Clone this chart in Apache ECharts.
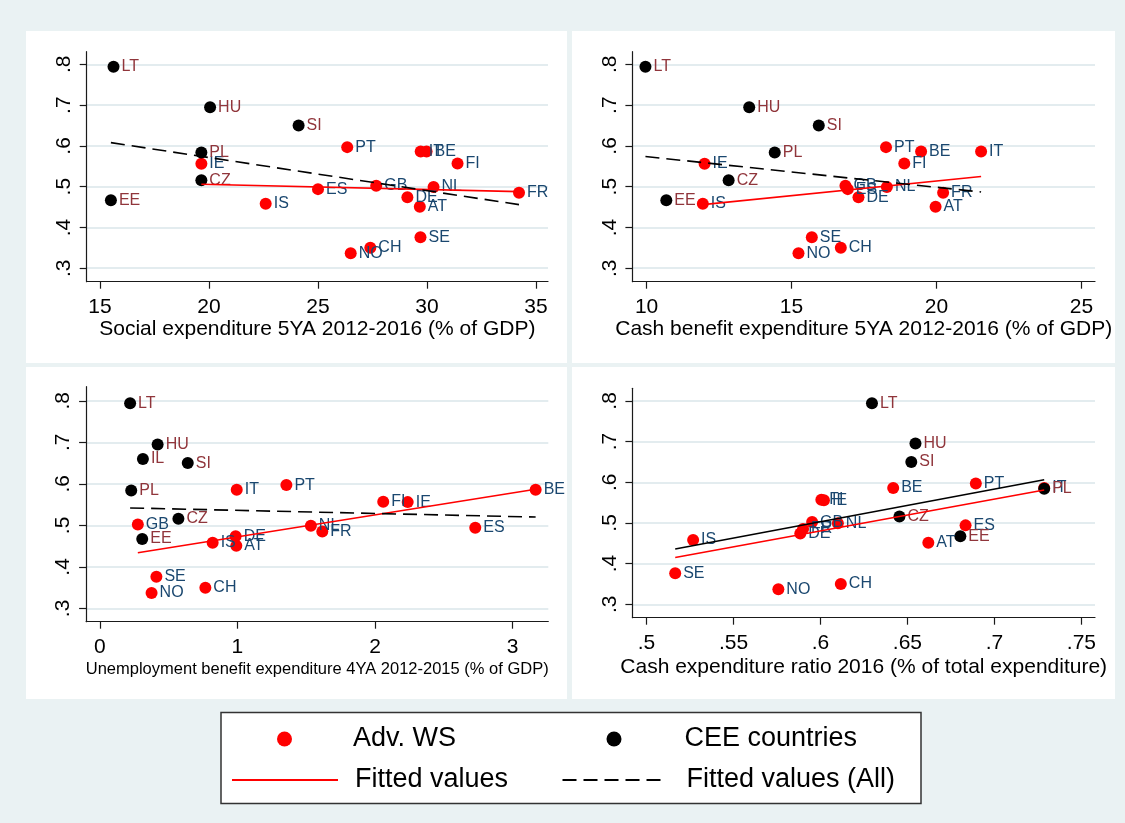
<!DOCTYPE html>
<html>
<head>
<meta charset="utf-8">
<script src="https://cdn.jsdelivr.net/npm/echarts@6/dist/echarts.min.js"></script>
<style>
  html, body { margin: 0; padding: 0; background: #eaf2f3; }
  #chart { width: 1125px; height: 823px; }
</style>
</head>
<body>
<div id="chart"></div>
<script>
// Outcome (vertical axis) by country, shared by all four panels
const advCountries = ['PT', 'IT', 'BE', 'FI', 'IE', 'GB', 'NL', 'ES', 'FR', 'DE', 'IS', 'AT', 'SE', 'CH', 'NO'];
const advOutcome   = [0.597, 0.586, 0.586, 0.557, 0.556, 0.502, 0.499, 0.494, 0.485, 0.474, 0.458, 0.451, 0.376, 0.350, 0.337];
const ceeCountries = ['LT', 'HU', 'IL', 'SI', 'PL', 'CZ', 'EE'];
const ceeOutcome   = [0.794, 0.695, 0.660, 0.650, 0.584, 0.516, 0.467];

// Panel 1: social expenditure, 5-year average 2012-2016 (% of GDP)
const advSocial = [26.34, 29.71, 29.98, 31.40, 19.65, 27.67, 30.30, 25.00, 34.22, 29.10, 22.60, 29.67, 29.70, 27.40, 26.50];
const ceeSocial = [15.62, 20.05, null, 24.11, 19.65, 19.65, 15.50];
const fitSocialAdv = [[19.65, 0.506], [34.22, 0.488]];
const fitSocialAll = [[15.50, 0.608], [34.22, 0.456]];

// Panel 2: cash benefit expenditure, 5-year average 2012-2016 (% of GDP)
const advCash = [18.26, 21.54, 19.47, 18.89, 12.00, 16.86, 18.29, 16.94, 20.23, 17.31, 11.94, 19.97, 15.70, 16.70, 15.24];
const ceeCash = [9.96, 13.54, null, 15.94, 14.42, 12.83, 10.68];
const fitCashAdv = [[11.94, 0.456], [21.54, 0.525]];
const fitCashAll = [[9.96, 0.574], [21.54, 0.487]];

// Panel 3: unemployment benefit expenditure, 4-year average 2012-2015 (% of GDP)
const advUnemp = [1.356, 0.995, 3.168, 2.060, 2.238, 0.276, 1.534, 2.729, 1.617, 0.987, 0.820, 0.992, 0.411, 0.767, 0.376];
const ceeUnemp = [0.220, 0.420, 0.313, 0.639, 0.228, 0.571, 0.308];
const fitUnempAdv = [[0.276, 0.434], [3.168, 0.587]];
const fitUnempAll = [[0.220, 0.542], [3.168, 0.520]];

// Panel 4: cash expenditure ratio 2016 (share of total expenditure)
const advRatio = [0.6893, 0.7286, 0.6418, 0.6005, 0.6020, 0.5952, 0.6100, 0.6834, 0.5900, 0.5884, 0.5268, 0.6620, 0.5165, 0.6117, 0.5758];
const ceeRatio = [0.6296, 0.6546, null, 0.6522, 0.7286, 0.6454, 0.6804];
const fitRatioAdv = [[0.5165, 0.415], [0.7286, 0.581]];
const fitRatioAll = [[0.5165, 0.436], [0.7286, 0.606]];

// Tick values
const yTicks = [0.3, 0.4, 0.5, 0.6, 0.7, 0.8];
const xTicksSocial = [15, 20, 25, 30, 35];
const xTicksCash = [10, 15, 20, 25];
const xTicksUnemp = [0, 1, 2, 3];
const xTicksRatio = [0.5, 0.55, 0.6, 0.65, 0.7, 0.75];

// Axis titles
const xTitles = [
  'Social expenditure 5YA 2012-2016 (% of GDP)',
  'Cash benefit expenditure 5YA 2012-2016 (% of GDP)',
  'Unemployment benefit expenditure 4YA 2012-2015 (% of GDP)',
  'Cash expenditure ratio 2016 (% of total expenditure)'
];

const FONT = '"Liberation Sans", Arial, Helvetica, sans-serif';
const AXIS_COLOR = '#1a1a1a';
const GRID_COLOR = '#e3ecef';

// Stata-style numbers: drop the leading zero (0.5 -> .5)
const fmt = v => {
  const s = String(Math.round(v * 1000) / 1000);
  return s.replace(/^0\./, '.');
};

const panels = [
  { grid: { left: 86.7, top: 51.7, width: 461.3, height: 230 }, xMin: 14.39, xMax: 35.55, yMin: 0.267, yMax: 0.831,
    xTicks: xTicksSocial, adv: advSocial, cee: ceeSocial, fitAdv: fitSocialAdv, fitAll: fitSocialAll, allSolid: false,
    titleSize: 21, labelMargin: 15, nameGap: 37 },
  { grid: { left: 632.4, top: 51.7, width: 462.6, height: 230 }, xMin: 9.51, xMax: 25.47, yMin: 0.267, yMax: 0.831,
    xTicks: xTicksCash, adv: advCash, cee: ceeCash, fitAdv: fitCashAdv, fitAll: fitCashAll, allSolid: false,
    titleSize: 21, labelMargin: 15, nameGap: 37 },
  { grid: { left: 86.1, top: 386.7, width: 462.2, height: 235 }, xMin: -0.10, xMax: 3.26, yMin: 0.268, yMax: 0.834,
    xTicks: xTicksUnemp, adv: advUnemp, cee: ceeUnemp, fitAdv: fitUnempAdv, fitAll: fitUnempAll, allSolid: false,
    titleSize: 16.5, labelMargin: 15, nameGap: 39 },
  { grid: { left: 632.4, top: 388.3, width: 462.6, height: 229.4 }, xMin: 0.4919, xMax: 0.7578, yMin: 0.267, yMax: 0.831,
    xTicks: xTicksRatio, adv: advRatio, cee: ceeRatio, fitAdv: fitRatioAdv, fitAll: fitRatioAll, allSolid: true,
    titleSize: 21, labelMargin: 15, nameGap: 39 }
];

const grids = [], xAxes = [], yAxes = [], series = [];

panels.forEach((p, i) => {
  grids.push(Object.assign({ containLabel: false }, p.grid));

  xAxes.push({
    type: 'value', gridIndex: i, min: p.xMin, max: p.xMax,
    name: xTitles[i], nameLocation: 'middle', nameGap: p.nameGap,
    nameTextStyle: { fontFamily: FONT, fontSize: p.titleSize, color: '#000' },
    axisLine: { show: true, onZero: false, lineStyle: { color: AXIS_COLOR, width: 1.2 } },
    axisTick: { show: true, length: 7, customValues: p.xTicks, lineStyle: { color: AXIS_COLOR, width: 1.2 } },
    axisLabel: { customValues: p.xTicks, formatter: fmt, margin: p.labelMargin,
                 fontFamily: FONT, fontSize: 21, color: '#000' },
    splitLine: { show: false }
  });

  yAxes.push({
    type: 'value', gridIndex: i, min: p.yMin, max: p.yMax,
    axisLine: { show: true, onZero: false, lineStyle: { color: AXIS_COLOR, width: 1.2 } },
    axisTick: { show: true, length: 7, customValues: yTicks, lineStyle: { color: AXIS_COLOR, width: 1.2 } },
    axisLabel: { customValues: yTicks, formatter: fmt, rotate: 90, margin: 12,
                 fontFamily: FONT, fontSize: 21, color: '#000' },
    splitLine: { show: true, lineStyle: { color: GRID_COLOR, width: 2 } }
  });

  const advPts = advCountries.map((c, k) => [p.adv[k], advOutcome[k], c]).filter(d => d[0] != null);
  const ceePts = ceeCountries.map((c, k) => [p.cee[k], ceeOutcome[k], c]).filter(d => d[0] != null);

  const pointLabel = color => ({
    show: true, position: 'right', distance: 2,
    formatter: q => q.value[2],
    fontFamily: FONT, fontSize: 16, color: color
  });

  series.push({
    name: 'Adv. WS', type: 'scatter', xAxisIndex: i, yAxisIndex: i,
    data: advPts, symbol: 'circle', symbolSize: 12,
    itemStyle: { color: '#ff0000', opacity: 1 },
    label: pointLabel('#1a476f'), z: 2
  });
  series.push({
    name: 'CEE countries', type: 'scatter', xAxisIndex: i, yAxisIndex: i,
    data: ceePts, symbol: 'circle', symbolSize: 12,
    itemStyle: { color: '#000000', opacity: 1 },
    label: pointLabel('#90353b'), z: 2
  });
  series.push({
    name: 'Fitted values', type: 'line', xAxisIndex: i, yAxisIndex: i,
    data: p.fitAdv, symbol: 'none', showSymbol: false, silent: true,
    lineStyle: { color: '#ff0000', width: 1.6 }, itemStyle: { color: '#ff0000' }, z: 4
  });
  series.push({
    name: 'Fitted values (All)', type: 'line', xAxisIndex: i, yAxisIndex: i,
    data: p.fitAll, symbol: 'none', showSymbol: false, silent: true,
    lineStyle: { color: '#000000', width: 1.6, type: p.allSolid ? 'solid' : [14, 7] },
    itemStyle: { color: '#000000' }, z: 4
  });
});

const legendText = pad => ({ fontFamily: FONT, fontSize: 27, color: '#000', lineHeight: 30, padding: [0, 0, 0, pad] });
const legendBase = { orient: 'horizontal', padding: 0, selectedMode: false };

const legends = [
  Object.assign({}, legendBase, { data: ['Adv. WS'], left: 277, top: 724, icon: 'circle', itemWidth: 15, itemHeight: 15,
    itemStyle: { opacity: 1 }, textStyle: legendText(56) }),
  Object.assign({}, legendBase, { data: ['CEE countries'], left: 606.5, top: 724, icon: 'circle', itemWidth: 15, itemHeight: 15,
    itemStyle: { opacity: 1 }, textStyle: legendText(58) }),
  Object.assign({}, legendBase, { data: ['Fitted values'], left: 231, top: 765, itemWidth: 106, itemHeight: 14,
    itemStyle: { opacity: 0 }, lineStyle: { width: 2 }, textStyle: legendText(12) }),
  Object.assign({}, legendBase, { data: ['Fitted values (All)'], left: 561.5, top: 765, itemWidth: 105, itemHeight: 14,
    itemStyle: { opacity: 0 }, lineStyle: { width: 2 }, textStyle: legendText(14) })
];

const panelRect = (x, y, w, h) => ({
  type: 'rect', z: -10, silent: true,
  shape: { x: x, y: y, width: w, height: h },
  style: { fill: '#ffffff' }
});

const chart = echarts.init(document.getElementById('chart'), null, { renderer: 'canvas' });
chart.setOption({
  backgroundColor: '#eaf2f3',
  animation: false,
  graphic: {
    elements: [
      panelRect(26, 31, 541, 332),
      panelRect(572, 31, 543, 332),
      panelRect(26, 367, 541, 332),
      panelRect(572, 367, 543, 332),
      {
        type: 'rect', z: -10, silent: true,
        shape: { x: 221, y: 712.5, width: 700, height: 91 },
        style: { fill: '#ffffff', stroke: '#333333', lineWidth: 1.5 }
      }
    ]
  },
  grid: grids,
  xAxis: xAxes,
  yAxis: yAxes,
  legend: legends,
  series: series
});
</script>
</body>
</html>
